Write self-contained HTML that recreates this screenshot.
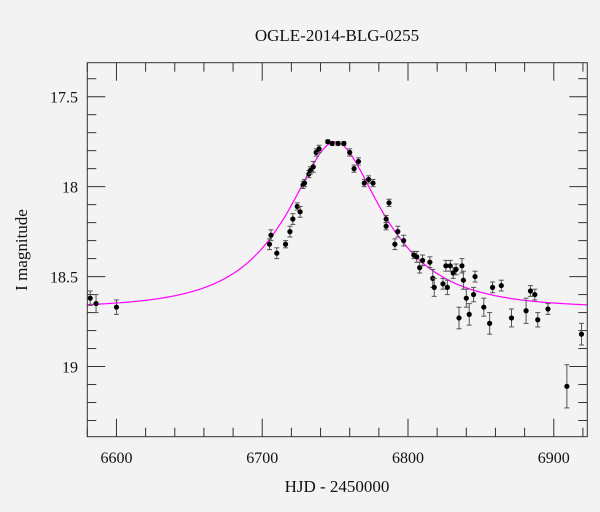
<!DOCTYPE html>
<html><head><meta charset="utf-8"><style>
body{margin:0;background:#f3f3f3;}
svg{display:block;font-family:"Liberation Serif",serif;}
</style></head><body>
<svg id="chart" width="600" height="512" xmlns="http://www.w3.org/2000/svg">
<rect x="0" y="0" width="600" height="512" fill="#f3f3f3"/>
<text x="337" y="41" text-anchor="middle" font-size="17" fill="#111">OGLE-2014-BLG-0255</text>
<text x="337" y="492" text-anchor="middle" font-size="17" fill="#111">HJD - 2450000</text>
<text transform="translate(27,250) rotate(-90)" text-anchor="middle" font-size="17" fill="#111">I magnitude</text>
<g id="ticks"></g>
<g id="model"></g>
<g id="pts"></g>
<rect x="87.3" y="62.7" width="500" height="374" fill="none" stroke="#333" stroke-width="1"/>
</svg>
<script>
const hjd=[6582,6586,6600,6705,6706,6710,6716,6719,6721,6724,6726,6728,6729,6732,6733,6735,6737,6739,6745,6748,6752,6756,6760,6763,6766,6770,6773,6776,6785,6785,6787,6791,6793,6797,6804,6806,6808,6810,6815,6817,6818,6824,6826,6827,6829,6831,6833,6835,6837,6838,6840,6842,6845,6846,6852,6856,6858,6864,6871,6881,6884,6887,6889,6896,6909,6919];
const mag=[18.62,18.65,18.67,18.32,18.27,18.37,18.32,18.25,18.18,18.11,18.14,17.99,17.98,17.93,17.91,17.89,17.81,17.79,17.75,17.76,17.76,17.76,17.81,17.90,17.86,17.98,17.96,17.98,18.18,18.22,18.09,18.32,18.25,18.30,18.38,18.39,18.45,18.41,18.42,18.51,18.56,18.54,18.44,18.56,18.44,18.48,18.46,18.73,18.44,18.52,18.62,18.71,18.60,18.50,18.67,18.76,18.56,18.55,18.73,18.69,18.58,18.60,18.74,18.68,19.11,18.82];
const err=[0.04,0.05,0.04,0.03,0.03,0.03,0.02,0.03,0.03,0.02,0.03,0.02,0.02,0.02,0.02,0.03,0.02,0.02,0.01,0.01,0.01,0.01,0.02,0.02,0.02,0.02,0.02,0.02,0.02,0.02,0.02,0.03,0.03,0.03,0.02,0.03,0.03,0.03,0.03,0.05,0.05,0.03,0.03,0.04,0.03,0.03,0.03,0.06,0.04,0.05,0.05,0.06,0.04,0.03,0.05,0.06,0.03,0.03,0.05,0.07,0.03,0.03,0.04,0.03,0.12,0.06];
const modelParams=[6750,0.46,58,18.675]; // t0, u0, tE, baseline
const xTicks=[6600,6700,6800,6900];
const yTicks=[17.5,18,18.5,19];
const X0=87.3,X1=587.3,Y0=62.7,Y1=436.7;
const xMin=6580,xMax=6923,yMin=17.311,yMax=19.39;
const sx=v=>X0+(v-xMin)/(xMax-xMin)*(X1-X0);
const sy=v=>Y0+(v-yMin)/(yMax-yMin)*(Y1-Y0);
const NS="http://www.w3.org/2000/svg";
function mk(t,a,p){const e=document.createElementNS(NS,t);for(const k in a)e.setAttribute(k,a[k]);p.appendChild(e);return e;}
const tg=document.getElementById('ticks');
for(let v=6580;v<=6920;v+=20){const x=sx(v);const maj=v%100===0;const L=maj?18:9;
 const b=mk('line',{x1:x,x2:x,y1:Y1,y2:Y1-L,stroke:'#333'},tg);
 const t=mk('line',{x1:x,x2:x,y1:Y0,y2:Y0+L,stroke:'#333'},tg);}
xTicks.forEach(v=>{const t=mk('text',{x:sx(v),y:463,'text-anchor':'middle','font-size':16,fill:'#111'},tg);t.textContent=v;
 });
for(let i=0;i<=20;i++){const v=17.4+i*0.1;if(v<yMin||v>yMax)continue;const y=sy(v);const maj=Math.abs(v*2-Math.round(v*2))<1e-6;const L=maj?18:9;
 const l=mk('line',{x1:X0,x2:X0+L,y1:y,y2:y,stroke:'#333'},tg);
 const r=mk('line',{x1:X1,x2:X1-L,y1:y,y2:y,stroke:'#333'},tg);}
yTicks.forEach(v=>{const t=mk('text',{x:78,y:sy(v)+6,'text-anchor':'end','font-size':16,fill:'#111'},tg);t.textContent=v;
 });
// model
const [t0,u0,tE,base]=modelParams;let d='';
for(let t=xMin;t<=xMax;t+=1){const u=Math.sqrt(u0*u0+((t-t0)/tE)**2);const A=(u*u+2)/(u*Math.sqrt(u*u+4));const m=base-2.5*Math.log10(A);
 d+=(d?'L':'M')+sx(t).toFixed(1)+','+sy(m).toFixed(1);}
const mp=mk('path',{d:d,fill:'none',stroke:'#ff00ff','stroke-width':1.2},document.getElementById('model'));

// points
const pg=document.getElementById('pts');
hjd.forEach((h,i)=>{const x=sx(h),y=sy(mag[i]),ya=sy(mag[i]-err[i]),yb=sy(mag[i]+err[i]);
 const g=mk('g',{},pg);
 mk('line',{x1:x,x2:x,y1:ya,y2:yb,stroke:'#555','stroke-width':1},g);
 mk('line',{x1:x-2.5,x2:x+2.5,y1:ya,y2:ya,stroke:'#555','stroke-width':1},g);
 mk('line',{x1:x-2.5,x2:x+2.5,y1:yb,y2:yb,stroke:'#555','stroke-width':1},g);
 mk('circle',{cx:x,cy:y,r:2.6,fill:'#000'},g);});
</script>
</body></html>
